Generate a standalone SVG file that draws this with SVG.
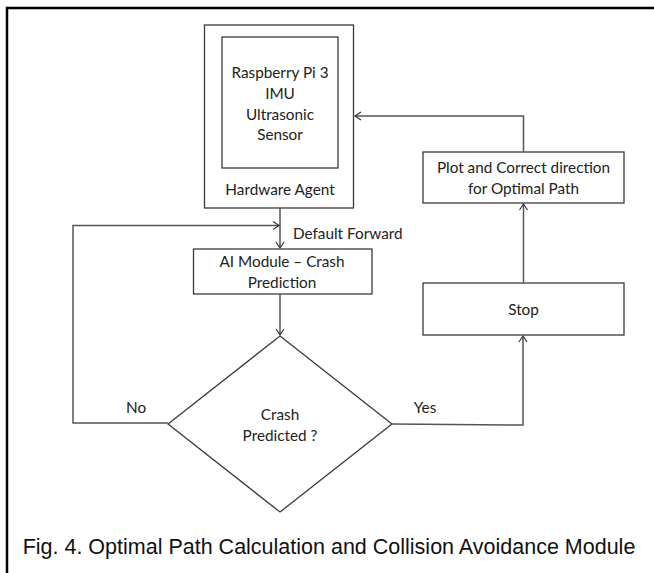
<svg xmlns="http://www.w3.org/2000/svg" width="654" height="573" viewBox="0 0 654 573">
<style>
.box{fill:#fff;stroke:#3a3a3a;stroke-width:1.3}
.t{font-family:Lato,"Open Sans",sans-serif;font-size:15.3px;fill:#222;text-anchor:middle;dominant-baseline:central}
.c{fill:none;stroke:#555;stroke-width:1.5}
</style>
<defs>
<marker id="ah" markerWidth="10" markerHeight="10" refX="8" refY="5" orient="auto" markerUnits="userSpaceOnUse">
<path d="M2,1 L8,5 L2,9" fill="none" stroke="#333" stroke-width="1.2"/>
</marker>
</defs>
<rect width="654" height="573" fill="#fff"/>
<g id="frame">
<path d="M7,573 V8 H654" fill="none" stroke="#000" stroke-width="2.5"/>
</g>
<g id="hardware">
<rect class="box" x="204.5" y="25" width="149" height="183"/>
<rect class="box" x="222" y="37" width="116" height="131"/>
<text class="t" x="280" y="72">Raspberry Pi 3</text>
<text class="t" x="280" y="93">IMU</text>
<text class="t" x="280" y="114">Ultrasonic</text>
<text class="t" x="280" y="134">Sensor</text>
<text class="t" x="280" y="189">Hardware Agent</text>
</g>
<g id="ai">
<rect class="box" x="193.5" y="249" width="178.5" height="45"/>
<text class="t" x="282" y="261">AI Module – Crash</text>
<text class="t" x="282" y="282">Prediction</text>
</g>
<g id="decision">
<polygon class="box" points="280,336 392,424 280,512 168,424"/>
<text class="t" x="280" y="414">Crash</text>
<text class="t" x="280" y="435">Predicted ?</text>
</g>
<g id="stop">
<rect class="box" x="423" y="283" width="201" height="52"/>
<text class="t" x="523.5" y="309">Stop</text>
</g>
<g id="plot">
<rect class="box" x="423" y="152" width="201" height="51"/>
<text class="t" x="523.5" y="167">Plot and Correct direction</text>
<text class="t" x="523.5" y="188">for Optimal Path</text>
</g>
<g id="connectors">
<path class="c" d="M280,208 V248" marker-end="url(#ah)"/>
<path class="c" d="M280,294 V335" marker-end="url(#ah)"/>
<path class="c" d="M168,423 H73 V225.5 H279" marker-end="url(#ah)"/>
<path class="c" d="M392,424 L523,425 V336" marker-end="url(#ah)"/>
<path class="c" d="M523.5,283 V204" marker-end="url(#ah)"/>
<path class="c" d="M523.5,152 V116 H355" marker-end="url(#ah)"/>
<text class="t" x="293" y="233" style="text-anchor:start">Default Forward</text>
<text class="t" x="136" y="407">No</text>
<text class="t" x="425" y="407">Yes</text>
</g>
<g id="caption">
<text x="329" y="547" style="font-family:'Liberation Sans',Arial,sans-serif;font-size:21.5px;fill:#111;text-anchor:middle;dominant-baseline:central">Fig. 4. Optimal Path Calculation and Collision Avoidance Module</text>
</g>
</svg>
